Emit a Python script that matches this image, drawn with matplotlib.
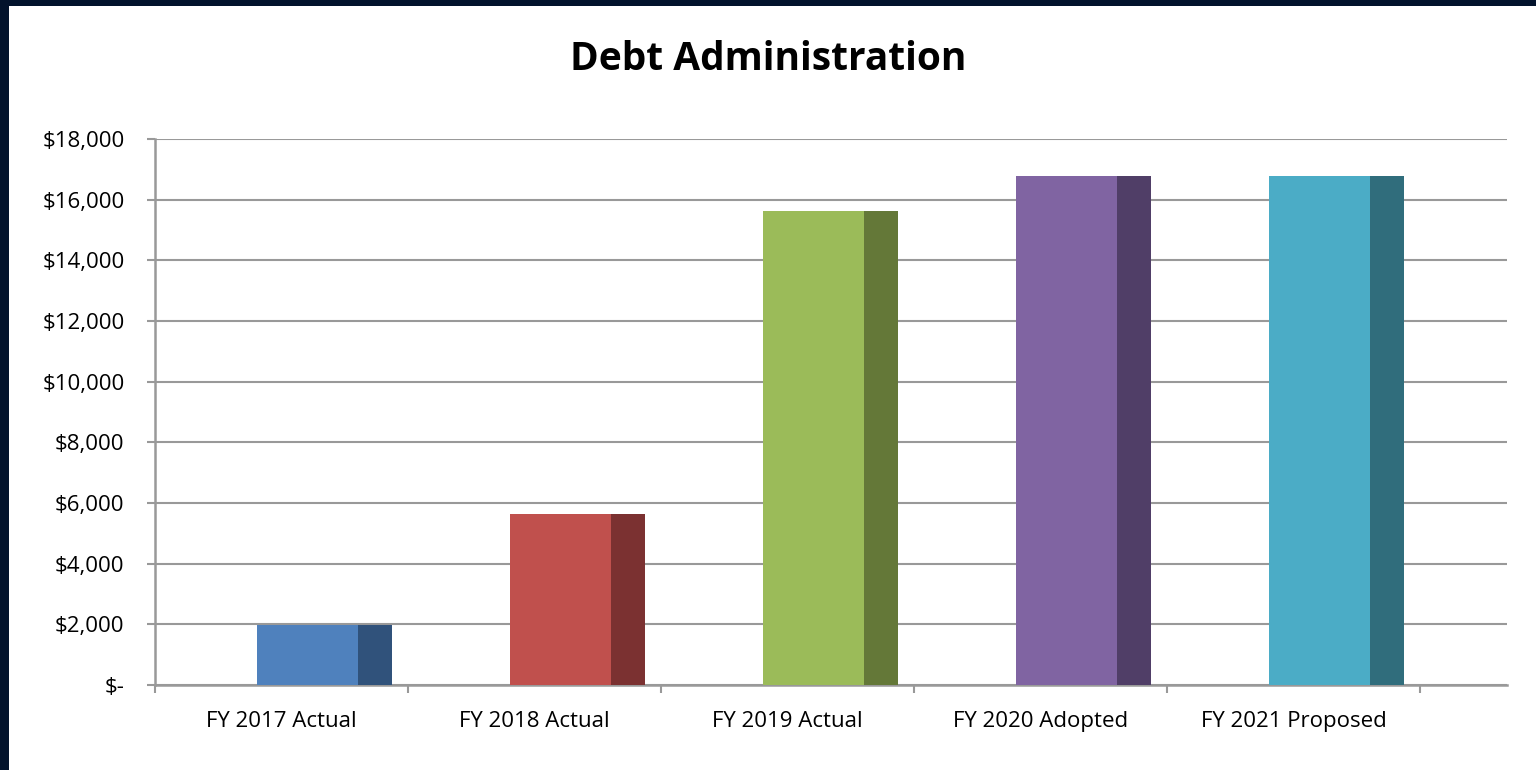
import matplotlib.pyplot as plt
from matplotlib.patches import Rectangle
from matplotlib.ticker import FuncFormatter, FixedLocator
import numpy as np

categories = ["FY 2017 Actual", "FY 2018 Actual", "FY 2019 Actual",
              "FY 2020 Adopted", "FY 2021 Proposed"]
values = [1990, 5650, 15620, 16780, 16780]
front_colors = ["#4f81bd", "#c0504d", "#9bbb59", "#8064a2", "#4bacc6"]
side_colors = ["#30527b", "#7b3131", "#647838", "#503e67", "#306d7c"]

plt.rcParams['font.family'] = ['Open Sans', 'DejaVu Sans']

fig = plt.figure(figsize=(15.36, 7.7), dpi=100, facecolor="white")
# dark strips on the left and top
dark = "#02132c"
fig.patches.append(Rectangle((0, 0), 9 / 1536, 1, transform=fig.transFigure,
                             facecolor=dark, edgecolor="none"))
fig.patches.append(Rectangle((0, 1 - 6 / 770), 1, 6 / 770, transform=fig.transFigure,
                             facecolor=dark, edgecolor="none"))

ax = fig.add_axes([155 / 1536, 1 - 685 / 770, (1507 - 155) / 1536, (685 - 139) / 770])
ax.set_facecolor("none")

x = np.arange(len(categories))
front_w = 0.401
side_w = 0.134
left = x - 0.098
ax.bar(left, values, width=front_w, align="edge", color=front_colors,
       edgecolor="none", zorder=3)
ax.bar(left + front_w, values, width=side_w, align="edge", color=side_colors,
       edgecolor="none", zorder=3)

ax.set_xlim(-0.5, 4.5 + 87 / 253)
ax.set_ylim(0, 18000)
ax.set_yticks(np.arange(0, 18001, 2000))
ax.yaxis.set_major_formatter(FuncFormatter(lambda v, p: "$-" if v == 0 else "${:,.0f}".format(v)))
ax.grid(axis="y", color="#999999", linewidth=1.5, zorder=1)
ax.set_axisbelow(True)

ax.set_xticks(x)
ax.set_xticklabels(categories)
ax.xaxis.set_minor_locator(FixedLocator(np.arange(-0.5, 5, 1)))
ax.tick_params(axis="x", which="major", length=0, pad=19, labelsize=16, colors="black")
ax.tick_params(axis="x", which="minor", length=6, width=1.5, color="#999999", direction="out")
ax.tick_params(axis="y", length=6, width=1.5, color="#999999", pad=16, labelsize=16)

for s in ["top", "right"]:
    ax.spines[s].set_visible(False)
for s in ["left", "bottom"]:
    ax.spines[s].set_color("#999999")
    ax.spines[s].set_linewidth(1.8)

fig.text(0.5, 1 - 59 / 770, "Debt Administration", ha="center", va="center",
         fontsize=28, fontweight="bold", color="black")

fig.savefig("out.png", dpi=100, facecolor=fig.get_facecolor())
